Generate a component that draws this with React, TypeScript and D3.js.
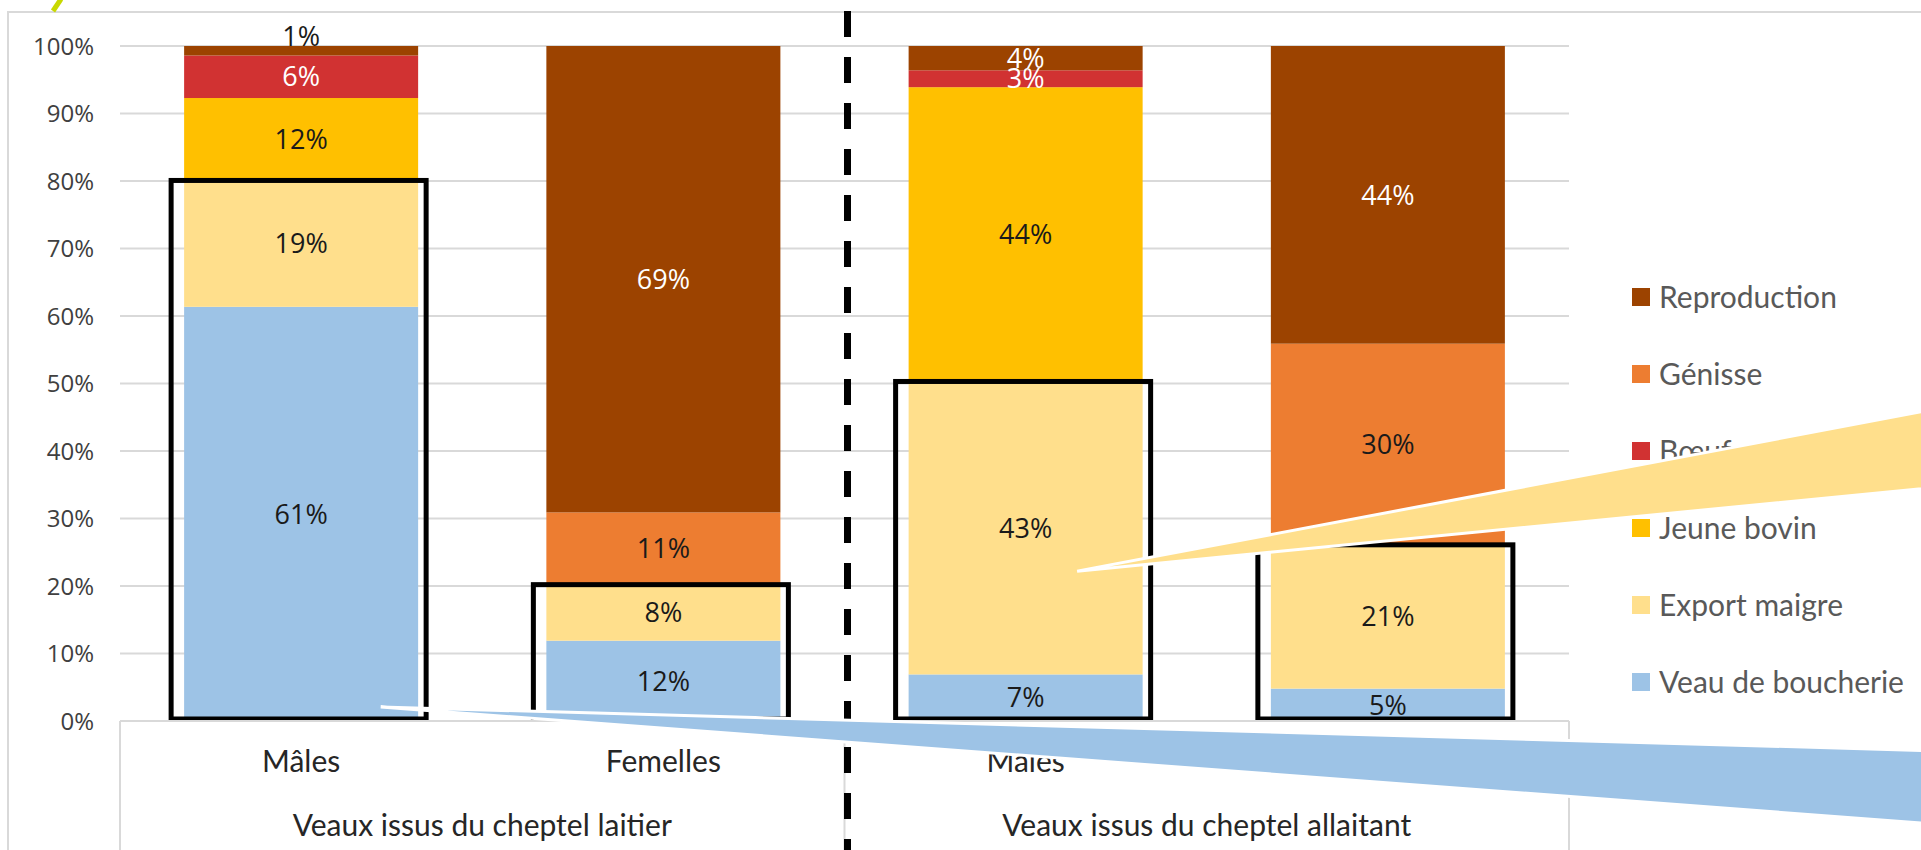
import React from "react";
import * as d3 from "d3";

// ---- data ----
const categories = ["Mâles", "Femelles", "Mâles ", "Femelles "];
const categoryLabels = ["Mâles", "Femelles", "Mâles", "Femelles"];
const groups = ["Veaux issus du cheptel laitier", "Veaux issus du cheptel allaitant"];
const seriesNames = ["Veau de boucherie", "Export maigre", "Jeune bovin", "Bœuf", "Génisse", "Reproduction"];
const seriesColors = ["#9DC3E6", "#FFDF8C", "#FFC000", "#D13232", "#ED7D31", "#9C4300"];
const labelColors = ["#1a1a1a", "#1a1a1a", "#1a1a1a", "#ffffff", "#1a1a1a", "#ffffff"];
const veauBoucherie = [61.3, 11.9, 6.9, 4.8];
const exportMaigre = [18.7, 8.3, 43.4, 21.3];
const jeuneBovin = [12.2, 0, 43.6, 0];
const boeuf = [6.3, 0, 2.5, 0];
const genisse = [0, 10.7, 0, 29.8];
const reproduction = [1.4, 69.1, 3.6, 44.1];
const yTicks = [0, 0.1, 0.2, 0.3, 0.4, 0.5, 0.6, 0.7, 0.8, 0.9, 1];
// highlight boxes enclose the first N series of each bar
const highlightSeriesCount = 2;

const W = 1921;
const H = 850;
const FONT = "Lato, 'Open Sans', sans-serif";
const NUMFONT = "'Open Sans', Lato, sans-serif";

export default function App() {
  const seriesValues = [veauBoucherie, exportMaigre, jeuneBovin, boeuf, genisse, reproduction];
  const rows = categories.map((c, i) => {
    const r: any = { cat: c };
    seriesNames.forEach((s, j) => (r[s] = seriesValues[j][i]));
    return r;
  });
  const stack = d3.stack<any>().keys(seriesNames).offset(d3.stackOffsetExpand)(rows);

  const x = d3.scaleBand<string>().domain(categories).range([120, 1569]).paddingInner(0.354).paddingOuter(0.177);
  const y = d3.scaleLinear().domain([0, 1]).range([721, 46]);
  const bw = x.bandwidth();
  const fmt = d3.format(".0%");

  const groupX = (g: number) => {
    const a = x(categories[g * 2])! - (x.step() - bw) / 2;
    const b = x(categories[g * 2 + 1])! + bw + (x.step() - bw) / 2;
    return [a, b];
  };
  const midX = groupX(0)[1];

  // callout wedges (annotation)
  const blueTip: [number, number] = [x(categories[0])! + bw * 0.84, y(0.0207)];
  const yellowTip: [number, number] = [x(categories[2])! + bw * 0.72, y(0.222)];
  const blueWedge = [blueTip, [W + 40, y(-0.047) - 40 * 0.03], [W + 40, y(-0.151) + 40 * 0.075]];
  const yellowWedge = [yellowTip, [W + 40, y(0.458) - 40 * 0.19], [W + 40, y(0.344) - 40 * 0.1]];
  const line = d3.line();

  return (
    <svg width={W} height={H} style={{ position: "absolute", left: 0, top: 0, display: "block", background: "#fff" }} fontFamily={FONT}>
      {/* frame */}
      <rect x={8} y={12} width={W + 20} height={H + 20} fill="#fff" stroke="#d9d9d9" strokeWidth={2} />
      {/* lime slash */}
      <line x1={53} y1={11} x2={61} y2={-1} stroke="#C8D800" strokeWidth={5} />

      {/* gridlines */}
      {yTicks.map((t) => (
        <line key={t} x1={120} x2={1569} y1={y(t)} y2={y(t)} stroke="#d9d9d9" strokeWidth={2} />
      ))}
      {/* y tick labels */}
      {yTicks.map((t) => (
        <text key={"l" + t} x={94} y={y(t)} dy="0.36em" textAnchor="end" fontSize={24} fontFamily={NUMFONT} fill="#404040">
          {fmt(t)}
        </text>
      ))}

      {/* bars */}
      {stack.map((s, j) =>
        s.map((d, i) => (
          <rect key={j + "-" + i} x={x(categories[i])} width={bw} y={y(d[1])} height={Math.max(0, y(d[0]) - y(d[1]))} fill={seriesColors[j]} />
        ))
      )}
      {/* data labels */}
      {stack.map((s, j) =>
        s.map((d, i) => {
          const v = seriesValues[j][i];
          if (v <= 0) return null;
          const small = v < 2 && j === seriesNames.length - 1;
          const cy = small ? y(d[1]) - 10 : (y(d[0]) + y(d[1])) / 2;
          return (
            <text key={"t" + j + "-" + i} x={x(categories[i])! + bw / 2} y={cy} dy="0.36em" textAnchor="middle" fontSize={27} fontFamily={NUMFONT} fill={small ? "#1a1a1a" : labelColors[j]}>
              {Math.round(v) + "%"}
            </text>
          );
        })
      )}

      {/* highlight boxes */}
      {categories.map((c, i) => {
        const top = stack[highlightSeriesCount - 1][i][1];
        const x0 = x(c)! - 13;
        const x1 = x(c)! + bw + 8;
        return <rect key={"b" + i} x={x0} y={y(top)} width={x1 - x0} height={y(0) - 2 - y(top)} fill="none" stroke="#000" strokeWidth={5} />;
      })}

      {/* category axis */}
      <line x1={120} x2={1569} y1={y(0)} y2={y(0)} stroke="#d9d9d9" strokeWidth={2} />
      {[120, midX, 1569].map((xx, k) => (
        <line key={"sep" + k} x1={xx} x2={xx} y1={y(0)} y2={H} stroke="#d9d9d9" strokeWidth={2} />
      ))}
      {categories.map((c, i) => (
        <text key={"c" + i} x={x(c)! + bw / 2} y={761} dy="0.36em" textAnchor="middle" fontSize={30} fill="#262626">
          {categoryLabels[i]}
        </text>
      ))}
      {groups.map((g, k) => {
        const [a, b] = groupX(k);
        return (
          <text key={"g" + k} x={(a + b) / 2} y={825} dy="0.36em" textAnchor="middle" fontSize={30} fill="#262626">
            {g}
          </text>
        );
      })}

      {/* legend */}
      {seriesNames
        .map((s, j) => ({ s, j }))
        .reverse()
        .map(({ s, j }, k) => {
          const cy = 297 + k * 77;
          return (
            <g key={"lg" + j}>
              <rect x={1632} y={cy - 9} width={18} height={18} fill={seriesColors[j]} />
              <text x={1659} y={cy} dy="0.36em" fontSize={30} fill="#595959">
                {s}
              </text>
            </g>
          );
        })}

      {/* dashed separator */}
      <line x1={midX + 3} x2={midX + 3} y1={11} y2={H} stroke="#000" strokeWidth={7} strokeDasharray="26 20" />

      {/* callout wedges */}
      <path d={line(yellowWedge as any)! + "Z"} fill={seriesColors[1]} stroke="#fff" strokeWidth={3} strokeLinejoin="miter" />
      <path d={line(blueWedge as any)! + "Z"} fill={seriesColors[0]} stroke="#fff" strokeWidth={3} strokeLinejoin="miter" />
    </svg>
  );
}
